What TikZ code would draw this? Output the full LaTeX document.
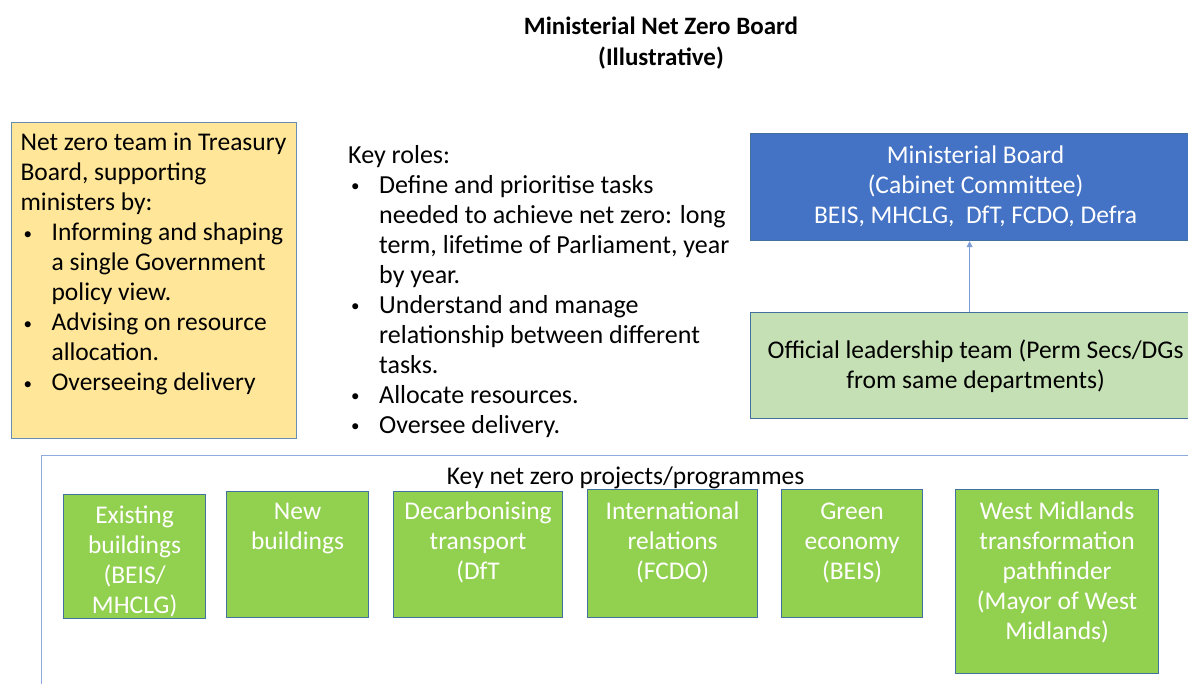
\documentclass[tikz,border=0pt]{standalone}
\usepackage{fontspec}
\setmainfont{Carlito}
\usetikzlibrary{arrows.meta}

\definecolor{teamfill}{HTML}{FFE699}
\definecolor{boardfill}{HTML}{4472C4}
\definecolor{leadfill}{HTML}{C5E0B4}
\definecolor{prjfill}{HTML}{92D050}
\definecolor{edge}{HTML}{41719C}
\definecolor{frame}{HTML}{8FAADC}

% bullet and hanging indent for the lists
\newcommand{\blt}{\makebox[31pt][l]{\hspace{3pt}\raisebox{1.5pt}{\fontsize{17}{17}\selectfont\textbullet}}}
\newcommand{\ind}{\hspace*{31pt}}
% box of fixed size, text from the top: width, height, first baseline, text
\newcommand{\cbox}[4]{\parbox[c][#2][t]{#1}{\centering\rule{0pt}{#3}#4}}
\newcommand{\lbox}[4]{\parbox[c][#2][t]{#1}{\raggedright\rule{0pt}{#3}#4}}

\begin{document}
\begin{tikzpicture}[x=1pt,y=-1pt,
   every node/.style={inner sep=0pt,anchor=north west,font=\fontsize{25.5}{30}\selectfont},
   box/.style={draw=edge,line width=1.2pt},
   prj/.style={box,fill=prjfill,text=white},
   link/.style={draw=boardfill!70,line width=1pt,-{Triangle[width=6pt,length=6pt]}}]
   \clip (0,0) rectangle (1188,684);
   % heading
   \node[anchor=north,font=\fontsize{25}{30.5}\selectfont\bfseries,align=center] (title) at (661,17)
      {Ministerial Net Zero Board\\(Illustrative)};
   % left column
   \node[box,fill=teamfill,draw=edge!80] (team) at (11,122) {\lbox{285pt}{316pt}{28pt}{\leftskip=9pt
      Net zero team in Treasury\\Board, supporting\\ministers by:\\
      \blt Informing and shaping\\\ind a single Government\\\ind policy view.\\
      \blt Advising on resource\\\ind allocation.\\
      \blt Overseeing delivery}};
   \node[font=\fontsize{26}{30}\selectfont] (roles) at (348,141) {\lbox{400pt}{300pt}{22pt}{Key roles:\\
      \blt Define and prioritise tasks\\\ind needed to achieve net zero: long\\\ind term, lifetime of Parliament, year\\\ind by year.\\
      \blt Understand and manage\\\ind relationship between different\\\ind tasks.\\
      \blt Allocate resources.\\
      \blt Oversee delivery.}};
   % right column
   \node[box,fill=boardfill,text=white] (board) at (750,133) {\cbox{450pt}{107pt}{30pt}{%
      Ministerial Board\\(Cabinet Committee)\\BEIS, MHCLG, \ DfT, FCDO, Defra}};
   \node[box,fill=leadfill] (lead) at (750,312) {\cbox{450pt}{106pt}{46pt}{%
      Official leadership team (Perm Secs/DGs\\from same departments)}};
   \draw[link] ([xshift=-6pt]lead.north) -- ([xshift=-6pt]board.south);
   % projects
   \node[draw=frame,line width=1.2pt] (prog) at (41,455) {\cbox{1168pt}{260pt}{29pt}{Key net zero projects/programmes}};
   \node[prj] (p1) at (63,494)  {\cbox{142pt}{124pt}{29pt}{Existing\\buildings\\(BEIS/\\MHCLG)}};
   \node[prj] (p2) at (226,491) {\cbox{142pt}{126pt}{28pt}{New\\buildings}};
   \node[prj] (p3) at (393,491) {\cbox{169pt}{126pt}{28pt}{Decarbonising\\transport\\(DfT}};
   \node[prj] (p4) at (587,489) {\cbox{170pt}{128pt}{30pt}{International\\relations\\(FCDO)}};
   \node[prj] (p5) at (781,489) {\cbox{141pt}{128pt}{30pt}{Green\\economy\\(BEIS)}};
   \node[prj] (p6) at (955,489) {\cbox{203pt}{184pt}{30pt}{West Midlands\\transformation\\pathfinder\\(Mayor of West\\Midlands)}};
\end{tikzpicture}
\end{document}
